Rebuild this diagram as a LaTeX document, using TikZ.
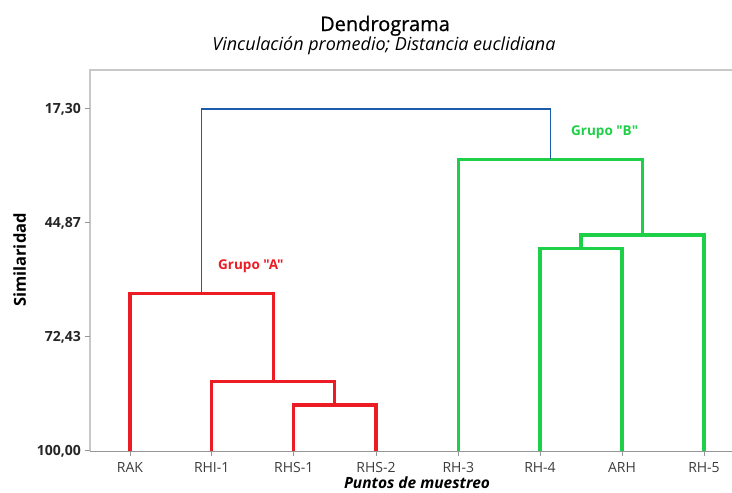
\documentclass[tikz,border=0pt]{standalone}
\usepackage{fontspec}
\setmainfont{Open Sans}
\newfontfamily\grpfont{Open Sans}[Ligatures=TeXOff]
\newfontfamily\titlefont{Open Sans}[FakeBold=0.8]
\definecolor{gred}{RGB}{236,28,36}
\definecolor{ggreen}{RGB}{30,208,72}
\definecolor{gblue}{RGB}{28,92,172}
\definecolor{frame}{RGB}{200,200,200}
\definecolor{axisg}{RGB}{150,150,150}
\definecolor{ticktxt}{RGB}{60,60,60}
\begin{document}
\begin{tikzpicture}[x=1pt,y=-1pt,
  redl/.style={draw=gred,line width=3.3pt,line join=miter},
  greenl/.style={draw=ggreen,line width=3.3pt,line join=miter},
  bluel/.style={draw=gblue,line width=1.9pt,line join=miter},
  ylab/.style={anchor=base east,font=\fontsize{14}{16}\selectfont\bfseries,text=black!85,inner sep=0pt},
  xlab/.style={anchor=base,font=\fontsize{14}{16}\selectfont,text=ticktxt,inner sep=0pt},
  grp/.style={anchor=base west,font=\grpfont\fontsize{13.5}{15}\selectfont\bfseries,inner sep=0pt}]
\useasboundingbox (0,0) rectangle (732,493);
% frame
\draw[frame,line width=2pt] (90,451) -- (90,70) -- (733,70);
\draw[axisg,line width=1pt] (90,451) -- (733,451);
% y ticks
\foreach \yy/\lab/\nm in {108.7/{17,30}/ya,222.7/{44,87}/yb,336.7/{72,43}/yc,450.7/{100,00}/yd}{
  \draw[axisg,line width=0.8pt] (84.5,\yy) -- (90,\yy);
  \node[ylab] (\nm) at (81,\yy+5) {\lab};
}
% leaves
\foreach \xx/\nm/\lab in {130/RAK/RAK,211.7/RHIa/RHI-1,293.7/RHSa/RHS-1,376/RHSb/RHS-2,458.3/RHc/RH-3,540/RHd/RH-4,622/ARH/ARH,704/RHe/RH-5}{
  \coordinate (\nm) at (\xx,451);
  \draw[axisg,line width=0.8pt] (\xx,451) -- (\xx,456);
  \node[xlab] (l\nm) at (\xx,472) {\lab};
}
% junction coordinates
\coordinate (jA) at (201.5,293.3);
\coordinate (jA2) at (273.3,381.7);
\coordinate (jA3) at (334.8,405);
\coordinate (jB) at (550.5,159.3);
\coordinate (jB2) at (642.3,235);
\coordinate (jB3) at (581,248.3);
\coordinate (root) at (376,108.7);
% red
\draw[redl] (RAK) -- (RAK |- jA) -- (jA2 |- jA) -- (jA2);
\draw[redl] (RHIa) -- (RHIa |- jA2) -- (jA3 |- jA2) -- (jA3);
\draw[redl] (RHSa) -- (RHSa |- jA3) -- (RHSb |- jA3) -- (RHSb);
% green
\draw[greenl] (RHc) -- (RHc |- jB) -- (jB2 |- jB) -- (jB2);
\draw[greenl] (jB3) -- (jB3 |- jB2) -- (RHe |- jB2) -- (RHe);
\draw[greenl] (RHd) -- (RHd |- jB3) -- (ARH |- jB3) -- (ARH);
% blue
\draw[bluel] (jA) -- (jA |- root) -- (jB |- root) -- (jB);
% group labels
\node[grp,text=gred] (ga) at (218,269) {Grupo "A"};
\node[grp,text=ggreen] (gb) at (571,135) {Grupo "B"};
% titles
\node[anchor=base,inner sep=0pt,font=\titlefont\fontsize{20}{22}\selectfont] (title) at (385,31) {Dendrograma};
\node[anchor=base,inner sep=0pt,font=\fontsize{18}{20}\selectfont\itshape] (sub) at (384,50) {Vinculación promedio; Distancia euclidiana};
\node[anchor=base,inner sep=0pt,font=\fontsize{15.5}{18}\selectfont\bfseries\itshape] (xt) at (417,488.5) {Puntos de muestreo};
\node[anchor=base,rotate=90,inner sep=0pt,font=\fontsize{16.5}{18}\selectfont\bfseries] (yt) at (26,260) {Similaridad};
\end{tikzpicture}
\end{document}
